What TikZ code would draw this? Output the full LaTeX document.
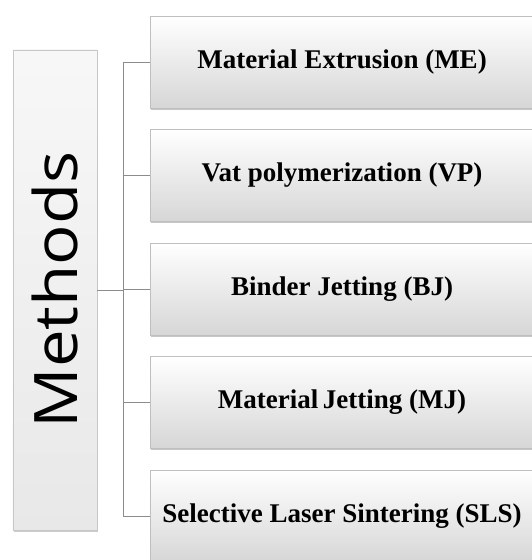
\documentclass[tikz,border=0pt]{standalone}
\usepackage{fontspec}
\setmainfont{Liberation Serif}
\newfontfamily\methodsfont{Open Sans}
\usetikzlibrary{positioning}
\usetikzlibrary{shadows}
\tikzset{methodbox/.style = {draw = black!25, line width = 0.6pt, rectangle,
                             minimum width = 384, minimum height = 92,
                             top color = white, middle color = white, bottom color = black!16,
                             drop shadow = {shadow xshift = 1pt, shadow yshift = -2pt, opacity = 0.45},
                             font = \fontsize{27}{32}\selectfont\bfseries}}
\tikzset{rootbox/.style = {draw = black!22, line width = 0.6pt, rectangle,
                           minimum width = 84, minimum height = 480,
                           top color = black!3, bottom color = black!9,
                           drop shadow = {shadow xshift = 1pt, shadow yshift = -2pt, opacity = 0.4}}}
\tikzset{link/.style = {draw = black!45, line width = 0.7pt}}

\begin{document}
\begin{tikzpicture}[x = 1pt, y = 1pt]
      \useasboundingbox (0, 0) rectangle (532, 560);
      \clip (0, 0) rectangle (532, 560);

      \node [rootbox] (methods) at (54.8, 270) {\methodsfont\fontsize{60}{60}\selectfont
                                                 \rotatebox{90}{\scalebox{1.12}[1]{Methods}}};

      \node [methodbox] (me)  at (342, 498)   {Material Extrusion (ME)};
      \node [methodbox] (vp)  at (342, 384.5) {Vat polymerization (VP)};
      \node [methodbox] (bj)  at (342, 271)   {Binder Jetting (BJ)};
      \node [methodbox] (mj)  at (342, 157.5) {Material\,Jetting (MJ)};
      \node [methodbox] (sls) at (342, 44)    {Selective Laser Sintering (SLS)};

      \coordinate (spine) at (123, 0);

%      \node at (spine) {spine};

      \draw [link] (me.west) -- (me.west -| spine) |- (sls.west);
      \draw [link] (vp.west) -- (vp.west -| spine);
      \draw [link] (bj.west) -- (bj.west -| spine);
      \draw [link] (mj.west) -- (mj.west -| spine);
      \draw [link] (methods.east) -- (methods.east -| spine);
    \end{tikzpicture}
\end{document}
